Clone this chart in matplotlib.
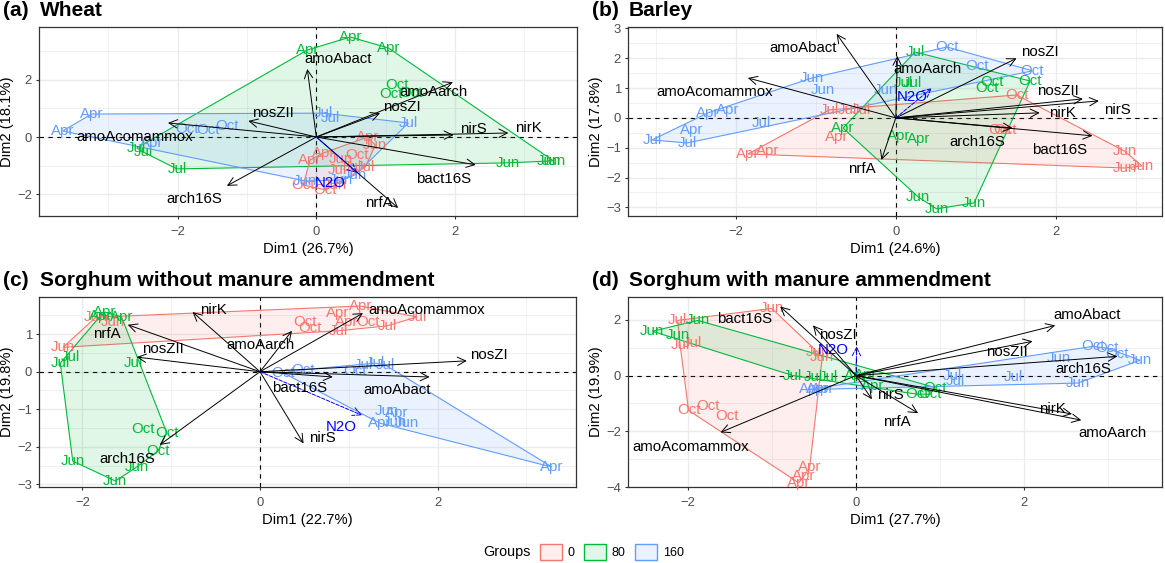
import numpy as np
import matplotlib
matplotlib.use("Agg")
import matplotlib.pyplot as plt
from matplotlib.patches import Patch

plt.rcParams['font.family'] = ['Liberation Sans', 'DejaVu Sans']

# groups / months (same layout in every panel: 3 reps x 4 months x 3 N rates)
group_levels = [0, 80, 160]
group_colors = ['#F8766D', '#00BA38', '#619CFF']
months = (['Apr'] * 3 + ['Jun'] * 3 + ['Jul'] * 3 + ['Oct'] * 3) * 3
groups = [0] * 12 + [80] * 12 + [160] * 12

# ---- (a) Wheat ----
wheat_dim1 = [-0.09, 0.10, 0.74, 0.35, 0.85, 0.27, 0.30, 0.52, 0.71, 0.59, -0.19, 0.13,
              -0.13, 0.49, 1.04, 2.76, 3.35, 3.42, -2.59, -2.50, -2.01, 1.17, 1.08, 1.36,
              -3.66, -3.24, -2.37, 0.56, 0.35, -0.16, 0.10, 0.20, 1.33, -1.86, -1.56, -1.29]
wheat_dim2 = [-0.80, -0.56, 0.00, -0.77, -0.28, -1.67, -1.15, -1.04, -1.04, -0.63, -1.67, -1.84,
              3.03, 3.48, 3.10, -0.90, -0.83, -0.83, -0.38, -0.52, -1.11, 1.81, 1.50, 1.53,
              0.21, 0.80, -0.21, -1.32, -1.50, -1.53, 0.83, 0.66, 0.49, 0.28, 0.24, 0.38]
wheat_vars = ['amoAbact', 'amoAarch', 'nosZI', 'nirS', 'nirK', 'bact16S', 'nrfA',
              'arch16S', 'amoAcomammox', 'nosZII', 'N2O']
wheat_var_dim1 = [-0.13, 1.97, 0.92, 1.98, 2.77, 2.30, 1.18, -1.29, -2.14, -0.98, 0.59]
wheat_var_dim2 = [2.37, 1.91, 0.83, 0.07, 0.14, -0.97, -2.47, -1.70, 0.49, 0.56, -1.25]
wheat_lab_dim1 = [0.32, 1.69, 1.24, 2.27, 3.06, 1.84, 0.90, -1.76, -2.62, -0.62, 0.20]
wheat_lab_dim2 = [2.71, 1.57, 1.04, 0.28, 0.31, -1.46, -2.30, -2.16, 0.00, 0.83, -1.60]

# ---- (b) Barley ----
barley_dim1 = [-1.85, -1.60, -0.74, 2.86, 2.86, 3.08, -0.83, -0.60, -0.43, 1.51, 1.30, 1.36,
               -0.66, 0.03, 0.29, 0.28, 0.51, 0.98, 0.24, 0.09, 0.21, 1.20, 1.14, 1.68,
               -2.55, -2.35, -2.10, -1.05, -0.91, -0.12, -3.05, -2.61, -1.68, 0.64, 1.01, 1.71]
barley_dim2 = [-1.21, -1.11, -0.63, -1.11, -1.68, -1.61, 0.27, 0.27, 0.27, 0.77, -0.40, -0.40,
               -0.34, -0.60, -0.70, -2.65, -3.05, -2.85, 2.21, 1.17, 1.17, 1.21, 1.00, 1.24,
               -0.40, 0.17, 0.27, 1.34, 0.94, 0.94, -0.74, -0.84, -0.17, 2.38, 1.74, 1.58]
barley_vars = ['amoAbact', 'amoAcomammox', 'nrfA', 'amoAarch', 'nosZI', 'nosZII', 'nirS',
               'nirK', 'bact16S', 'arch16S', 'N2O']
barley_var_dim1 = [-0.74, -1.85, -0.18, 0.02, 1.51, 2.34, 2.54, 1.80, 2.46, 1.46, 0.45]
barley_var_dim2 = [2.82, 1.34, -1.41, 2.08, 2.00, 0.64, 0.57, 0.17, -0.60, -0.34, 1.00]
barley_lab_dim1 = [-1.16, -2.26, -0.43, 0.40, 1.80, 2.03, 2.77, 2.08, 2.05, 1.02, 0.20]
barley_lab_dim2 = [2.35, 0.87, -1.71, 1.64, 2.21, 0.91, 0.27, 0.18, -1.07, -0.80, 0.70]

# ---- (c) Sorghum without manure ----
sorg_dim1 = [0.88, 1.13, 0.98, -2.22, -1.85, -1.66, 0.88, 1.43, 1.77, 0.51, 0.56, 1.22,
             -1.80, -1.75, -1.56, -2.11, -1.39, -1.63, -2.25, -2.14, -1.43, -1.32, -1.05, -1.15,
             1.54, 1.35, 3.29, 1.43, 1.66, 1.52, 1.16, 1.30, 1.41, 0.26, 0.48, 1.07]
sorg_dim2 = [1.57, 1.75, 1.33, 0.65, 1.45, 1.33, 1.09, 1.22, 1.46, 1.33, 1.17, 1.33,
             1.48, 1.59, 1.46, -2.38, -2.54, -2.91, 0.23, 0.39, 0.23, -1.53, -1.63, -2.11,
             -1.11, -1.37, -2.54, -1.05, -1.37, -1.34, 0.18, 0.23, 0.18, -0.03, 0.05, 0.02]
sorg_vars = ['nirK', 'amoAarch', 'nrfA', 'nosZII', 'arch16S', 'nirS', 'amoAcomammox',
             'nosZI', 'amoAbact', 'bact16S', 'N2O']
sorg_var_dim1 = [-0.76, 0.36, -1.49, -1.39, -1.13, 0.49, 1.16, 2.33, 1.91, 0.82, 1.15]
sorg_var_dim2 = [1.59, 1.09, 1.25, 0.39, -1.95, -1.91, 1.56, 0.29, -0.14, -0.14, -1.16]
sorg_lab_dim1 = [-0.53, 0.00, -1.73, -1.09, -1.50, 0.70, 1.88, 2.58, 1.54, 0.45, 0.92]
sorg_lab_dim2 = [1.65, 0.71, 1.01, 0.60, -2.33, -1.77, 1.65, 0.44, -0.49, -0.43, -1.47]

# ---- (d) Sorghum with manure ----
sorgm_dim1 = [-0.55, -0.62, -0.68, -1.00, -0.45, -0.40, -2.12, -2.09, -1.95, -1.99, -1.76, -1.53,
              0.00, 0.12, 0.20, -2.42, -2.12, -1.88, -0.75, -0.51, -0.33, 0.73, 0.88, 0.94,
              -0.54, -0.46, -0.40, 2.41, 2.64, 3.38, 1.15, 1.18, 1.87, 2.82, 2.99, 3.11]
sorgm_dim2 = [-3.30, -3.62, -3.85, 2.41, 0.83, 0.65, 1.98, 1.09, 1.16, -1.25, -1.11, -1.46,
              -0.03, 0.02, -0.38, 1.59, 1.44, 1.98, 0.00, -0.06, -0.06, -0.67, -0.67, -0.43,
              -0.49, -0.49, -0.49, 0.62, -0.27, 0.55, -0.02, -0.20, -0.06, 1.05, 0.98, 0.76]
sorgm_vars = ['bact16S', 'nosZI', 'amoAcomammox', 'nirS', 'nrfA', 'amoAbact', 'nosZII',
              'arch16S', 'nirK', 'amoAarch', 'N2O']
sorgm_var_dim1 = [-0.90, -0.51, -1.61, 0.19, 0.74, 2.37, 2.10, 3.11, 2.57, 2.68, 0.01]
sorgm_var_dim2 = [2.48, 1.80, -2.04, -0.85, -1.35, 1.80, 1.23, 0.69, -1.38, -1.60, 1.05]
sorgm_lab_dim1 = [-1.32, -0.22, -1.97, 0.41, 0.49, 2.75, 1.79, 2.71, 2.34, 3.05, -0.27]
sorgm_lab_dim2 = [2.02, 1.44, -2.57, -0.71, -1.68, 2.19, 0.84, 0.23, -1.20, -2.07, 0.91]

panels = [
    dict(tag='(a)', title='Wheat', rect=[39, 27, 538, 189],
         x=wheat_dim1, y=wheat_dim2, vars=wheat_vars,
         vx=wheat_var_dim1, vy=wheat_var_dim2, lx=wheat_lab_dim1, ly=wheat_lab_dim2,
         xlim=(-4.0, 3.76), ylim=(-2.75, 3.83), xt=[-2, 0, 2], yt=[-2, 0, 2],
         xm=[-3, -1, 1, 3], ym=[-1, 1, 3], xl='Dim1 (26.7%)', yl='Dim2 (18.1%)'),
    dict(tag='(b)', title='Barley', rect=[628, 27, 534, 189],
         x=barley_dim1, y=barley_dim2, vars=barley_vars,
         vx=barley_var_dim1, vy=barley_var_dim2, lx=barley_lab_dim1, ly=barley_lab_dim2,
         xlim=(-3.35, 3.33), ylim=(-3.29, 3.05), xt=[-2, 0, 2], yt=[-3, -2, -1, 0, 1, 2, 3],
         xm=[-3, -1, 1, 3], ym=[-2.5, -1.5, -0.5, 0.5, 1.5, 2.5],
         xl='Dim1 (24.6%)', yl='Dim2 (17.8%)'),
    dict(tag='(c)', title='Sorghum without manure ammendment', rect=[39, 297, 537, 190],
         x=sorg_dim1, y=sorg_dim2, vars=sorg_vars,
         vx=sorg_var_dim1, vy=sorg_var_dim2, lx=sorg_lab_dim1, ly=sorg_lab_dim2,
         xlim=(-2.49, 3.56), ylim=(-3.07, 1.99), xt=[-2, 0, 2], yt=[-3, -2, -1, 0, 1],
         xm=[-1, 1, 3], ym=[-2.5, -1.5, -0.5, 0.5, 1.5],
         xl='Dim1 (22.7%)', yl='Dim2 (19.8%)'),
    dict(tag='(d)', title='Sorghum with manure ammendment', rect=[628, 297, 534, 190],
         x=sorgm_dim1, y=sorgm_dim2, vars=sorgm_vars,
         vx=sorgm_var_dim1, vy=sorgm_var_dim2, lx=sorgm_lab_dim1, ly=sorgm_lab_dim2,
         xlim=(-2.71, 3.64), ylim=(-3.97, 2.82), xt=[-2, 0, 2], yt=[-4, -2, 0, 2],
         xm=[-1, 1, 3], ym=[-3, -1, 1], xl='Dim1 (27.7%)', yl='Dim2 (19.9%)'),
]

W, H = 1165, 563


def convex_hull(pts):
    pts = sorted(set(pts))
    if len(pts) < 3:
        return pts

    def cross(o, a, b):
        return (a[0] - o[0]) * (b[1] - o[1]) - (a[1] - o[1]) * (b[0] - o[0])
    lower, upper = [], []
    for p in pts:
        while len(lower) >= 2 and cross(lower[-2], lower[-1], p) <= 0:
            lower.pop()
        lower.append(p)
    for p in reversed(pts):
        while len(upper) >= 2 and cross(upper[-2], upper[-1], p) <= 0:
            upper.pop()
        upper.append(p)
    return lower[:-1] + upper[:-1]


fig = plt.figure(figsize=(W / 100, H / 100), dpi=100)

for p in panels:
    l, t, w, h = p['rect']
    ax = fig.add_axes([l / W, 1 - (t + h) / H, w / W, h / H])
    ax.set_xlim(*p['xlim'])
    ax.set_ylim(*p['ylim'])
    ax.set_xticks(p['xt'])
    ax.set_yticks(p['yt'])
    ax.set_xticks(p['xm'], minor=True)
    ax.set_yticks(p['ym'], minor=True)
    ax.grid(which='major', color='#EBEBEB', lw=1.0, zorder=0)
    ax.grid(which='minor', color='#EBEBEB', lw=0.5, zorder=0)
    ax.set_axisbelow(True)
    for s in ax.spines.values():
        s.set_color('#333333')
        s.set_linewidth(0.9)
    ax.tick_params(which='major', length=2.5, width=0.8, color='#333333',
                   labelsize=9.4, labelcolor='#4D4D4D')
    ax.tick_params(axis='x', which='major', pad=4.5)
    ax.tick_params(axis='y', which='major', pad=2.5)
    ax.tick_params(which='minor', length=0)
    ax.set_xlabel(p['xl'], fontsize=10.6, labelpad=3)
    ax.set_ylabel(p['yl'], fontsize=10.6, labelpad=2)

    ax.axhline(0, color='black', lw=0.8, ls=(0, (4, 4)), zorder=1)
    ax.axvline(0, color='black', lw=0.8, ls=(0, (4, 4)), zorder=1)

    x = np.array(p['x'])
    y = np.array(p['y'])
    g = np.array(groups)
    for lev, col in zip(group_levels, group_colors):
        m = g == lev
        hull = convex_hull(list(zip(x[m], y[m])))
        hx = [q[0] for q in hull]
        hy = [q[1] for q in hull]
        ax.fill(hx, hy, facecolor=col, alpha=0.12, edgecolor='none', zorder=2)
        ax.fill(hx, hy, facecolor='none', edgecolor=col, lw=0.8, zorder=2)
    for xi, yi, mo, gi in zip(x, y, months, groups):
        ax.text(xi, yi, mo, color=group_colors[group_levels.index(gi)], fontsize=10.8,
                ha='center', va='center', zorder=3)

    for name, vx, vy, lx, ly in zip(p['vars'], p['vx'], p['vy'], p['lx'], p['ly']):
        sup = name == 'N2O'
        col = '#0000FF' if sup else 'black'
        ax.annotate('', xy=(vx, vy), xytext=(0, 0),
                    arrowprops=dict(arrowstyle='->,head_length=0.6,head_width=0.3',
                                    color=col, lw=0.7, ls='--' if sup else '-',
                                    shrinkA=0, shrinkB=0, mutation_scale=10),
                    zorder=4)
        ax.text(lx, ly, name, color=col, fontsize=10.8, ha='center', va='center', zorder=5)

    ty = 1 - (t - 16) / H
    fig.text((l - 36) / W, ty, p['tag'], fontsize=15, fontweight='bold', va='center', ha='left')
    fig.text((l + 1) / W, ty, p['title'], fontsize=15, fontweight='bold', va='center', ha='left')

handles = []
for c in group_colors:
    handles.append(Patch(facecolor=matplotlib.colors.to_rgba(c, 0.12), edgecolor=c, linewidth=1.0))
leg = fig.legend(handles, [str(v) for v in group_levels], ncol=3, frameon=False,
                 loc='center', bbox_to_anchor=(612 / W, 1 - 552 / H), fontsize=9,
                 handlelength=1.76, handleheight=1.68, handletextpad=0.45, columnspacing=0.75)
fig.text(483 / W, 1 - 552 / H, 'Groups', fontsize=10.4, va='center', ha='left')

fig.savefig('out.png', dpi=100)
